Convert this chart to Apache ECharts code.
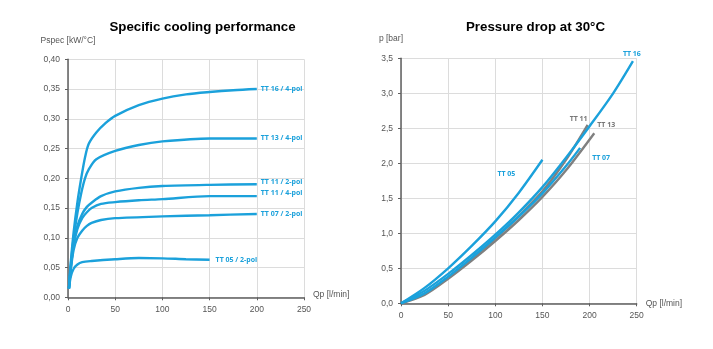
<!DOCTYPE html>
<html><head><meta charset="utf-8">
<script src="https://cdn.jsdelivr.net/npm/echarts@6/dist/echarts.min.js"></script>
<style>html,body{margin:0;padding:0;background:#fff}#c{width:713px;height:349px}</style>
</head><body><div id="c"></div>
<script>
// ---- Left chart: Specific cooling performance (Qp [l/min], Pspec [kW/°C])
const coolNames = ['TT 16 / 4-pol','TT 13 / 4-pol','TT 11 / 2-pol','TT 11 / 4-pol','TT 07 / 2-pol','TT 05 / 2-pol'];
const coolTT16 = [[1,0.015],[3,0.06],[6,0.11],[10,0.16],[14,0.2],[18,0.235],[22,0.258],[30,0.277],[40,0.293],[50,0.305],[75,0.323],[100,0.334],[125,0.341],[150,0.345],[175,0.348],[200,0.35]];
const coolTT13 = [[1,0.015],[3,0.055],[6,0.1],[10,0.142],[14,0.175],[18,0.2],[22,0.215],[30,0.232],[50,0.246],[75,0.256],[100,0.262],[150,0.267],[200,0.267]];
const coolTT11_2 = [[1,0.015],[3,0.05],[6,0.09],[10,0.12],[15,0.14],[20,0.152],[25,0.159],[35,0.17],[50,0.178],[75,0.184],[100,0.187],[150,0.189],[200,0.19]];
const coolTT11_4 = [[1,0.015],[3,0.05],[6,0.088],[10,0.115],[15,0.133],[20,0.143],[25,0.15],[35,0.157],[50,0.16],[75,0.163],[100,0.165],[150,0.17],[200,0.17]];
const coolTT07 = [[1,0.015],[3,0.048],[6,0.08],[10,0.1],[15,0.112],[20,0.12],[25,0.125],[35,0.13],[50,0.133],[100,0.136],[150,0.138],[200,0.14]];
const coolTT05 = [[1,0.015],[3,0.035],[6,0.048],[10,0.055],[15,0.059],[25,0.061],[50,0.064],[75,0.066],[100,0.0655],[125,0.064],[150,0.063]];
const coolYTicks = [0,0.05,0.1,0.15,0.2,0.25,0.3,0.35,0.4];
const coolXTicks = [0,50,100,150,200,250];

// ---- Right chart: Pressure drop at 30°C (Qp [l/min], p [bar])
const presNames = ['TT 16','TT 11','TT 13','TT 07','TT 05'];
const presTT16 = [[0,0],[25,0.18],[50,0.42],[75,0.69],[100,0.98],[125,1.3],[150,1.66],[175,2.08],[200,2.53],[225,3.0],[246,3.46]];
const presTT11 = [[0,0],[25,0.14],[50,0.37],[75,0.64],[100,0.93],[125,1.25],[150,1.6],[175,2.05],[198,2.55]];
const presTT13 = [[0,0],[25,0.12],[50,0.35],[75,0.61],[100,0.89],[125,1.19],[150,1.52],[175,1.9],[205,2.43]];
const presTT07 = [[0,0],[25,0.14],[50,0.38],[75,0.65],[100,0.94],[125,1.24],[150,1.57],[175,1.96],[190,2.22]];
const presTT05 = [[0,0],[25,0.22],[50,0.5],[75,0.82],[100,1.17],[125,1.58],[150,2.05]];
const presYTicks = [0,0.5,1,1.5,2,2.5,3,3.5];

const BLUE = '#1ba1db', GRAY = '#808080';
const fmtComma = d => v => v.toFixed(d).replace('.', ',');

function axisCommon(){
  return {
    axisLine:{show:true,lineStyle:{color:'#5f5f5f',width:1.5}},
    axisTick:{show:true,length:3,lineStyle:{color:'#5f5f5f'}},
    splitLine:{show:true,lineStyle:{color:'#dcdcdc',width:1}},
    axisLabel:{color:'#555',fontSize:8.5,fontFamily:'Liberation Sans'}
  };
}

function line(name, data, color, xi, labelOpt){
  return {
    name, type:'line', xAxisIndex:xi, yAxisIndex:xi, data,
    smooth:0.3, showSymbol:false, symbol:'none',
    lineStyle:{color, width:2.4}, itemStyle:{color},
    endLabel:Object.assign({show:true, formatter:name, color:BLUE, fontSize:7,
      fontWeight:'bold', fontFamily:'Open Sans', distance:4}, labelOpt||{}),
    emphasis:{disabled:true}, animation:false
  };
}

const chart = echarts.init(document.getElementById('c'), null, {renderer:'canvas'});
chart.setOption({
  animation:false,
  title:[
    {text:'Specific cooling performance', left:197.5, top:16, textAlign:'center',
     textStyle:{fontSize:13.3,fontWeight:'bold',color:'#000',fontFamily:'Liberation Sans'}},
    {text:'Pressure drop at 30°C', left:530.5, top:16, textAlign:'center',
     textStyle:{fontSize:13.3,fontWeight:'bold',color:'#000',fontFamily:'Liberation Sans'}}
  ],
  grid:[
    {left:68, right:409, top:59.3, bottom:51.7},
    {left:401, right:76.3, top:58.3, bottom:45.7}
  ],
  xAxis:[
    Object.assign(axisCommon(), {gridIndex:0, type:'value', min:coolXTicks[0], max:coolXTicks[coolXTicks.length-1], interval:50,
      name:'Qp [l/min]', nameLocation:'end', nameGap:9,
      nameTextStyle:{color:'#555',fontSize:8.5,fontFamily:'Liberation Sans',verticalAlign:'bottom',lineHeight:5}}),
    Object.assign(axisCommon(), {gridIndex:1, type:'value', min:0, max:250, interval:50,
      name:'Qp [l/min]', nameLocation:'end', nameGap:9,
      nameTextStyle:{color:'#555',fontSize:8.5,fontFamily:'Liberation Sans',padding:[0,0,3,0]}})
  ],
  yAxis:[
    Object.assign(axisCommon(), {gridIndex:0, type:'value', min:coolYTicks[0], max:coolYTicks[coolYTicks.length-1], interval:0.05,
      axisLabel:{color:'#555',fontSize:8.5,fontFamily:'Liberation Sans',formatter:fmtComma(2)},
      name:'Pspec [kW/°C]', nameGap:14,
      nameTextStyle:{color:'#555',fontSize:8.5,fontFamily:'Liberation Sans'}}),
    Object.assign(axisCommon(), {gridIndex:1, type:'value', min:presYTicks[0], max:presYTicks[presYTicks.length-1], interval:0.5,
      axisLabel:{color:'#555',fontSize:8.5,fontFamily:'Liberation Sans',formatter:fmtComma(1)},
      name:'p [bar]', nameGap:15,
      nameTextStyle:{color:'#555',fontSize:8.5,fontFamily:'Liberation Sans',align:'right',padding:[0,-2,0,0]}})
  ],
  series:[
    line(coolNames[0], coolTT16, BLUE, 0),
    line(coolNames[1], coolTT13, BLUE, 0),
    line(coolNames[2], coolTT11_2, BLUE, 0, {offset:[0,-2]}),
    line(coolNames[3], coolTT11_4, BLUE, 0, {offset:[0,-3]}),
    line(coolNames[4], coolTT07, BLUE, 0),
    line(coolNames[5], coolTT05, BLUE, 0, {offset:[2,0]}),
    line(presNames[4], presTT05, BLUE, 1, {offset:[-49,14]}),
    line(presNames[1], presTT11, GRAY, 1, {color:'#777', offset:[-22,-6]}),
    line(presNames[2], presTT13, GRAY, 1, {color:'#777', offset:[-1,-8]}),
    line(presNames[3], presTT07, BLUE, 1, {offset:[8,10]}),
    line(presNames[0], presTT16, BLUE, 1, {offset:[-14,-7]})
  ]
});
</script></body></html>
